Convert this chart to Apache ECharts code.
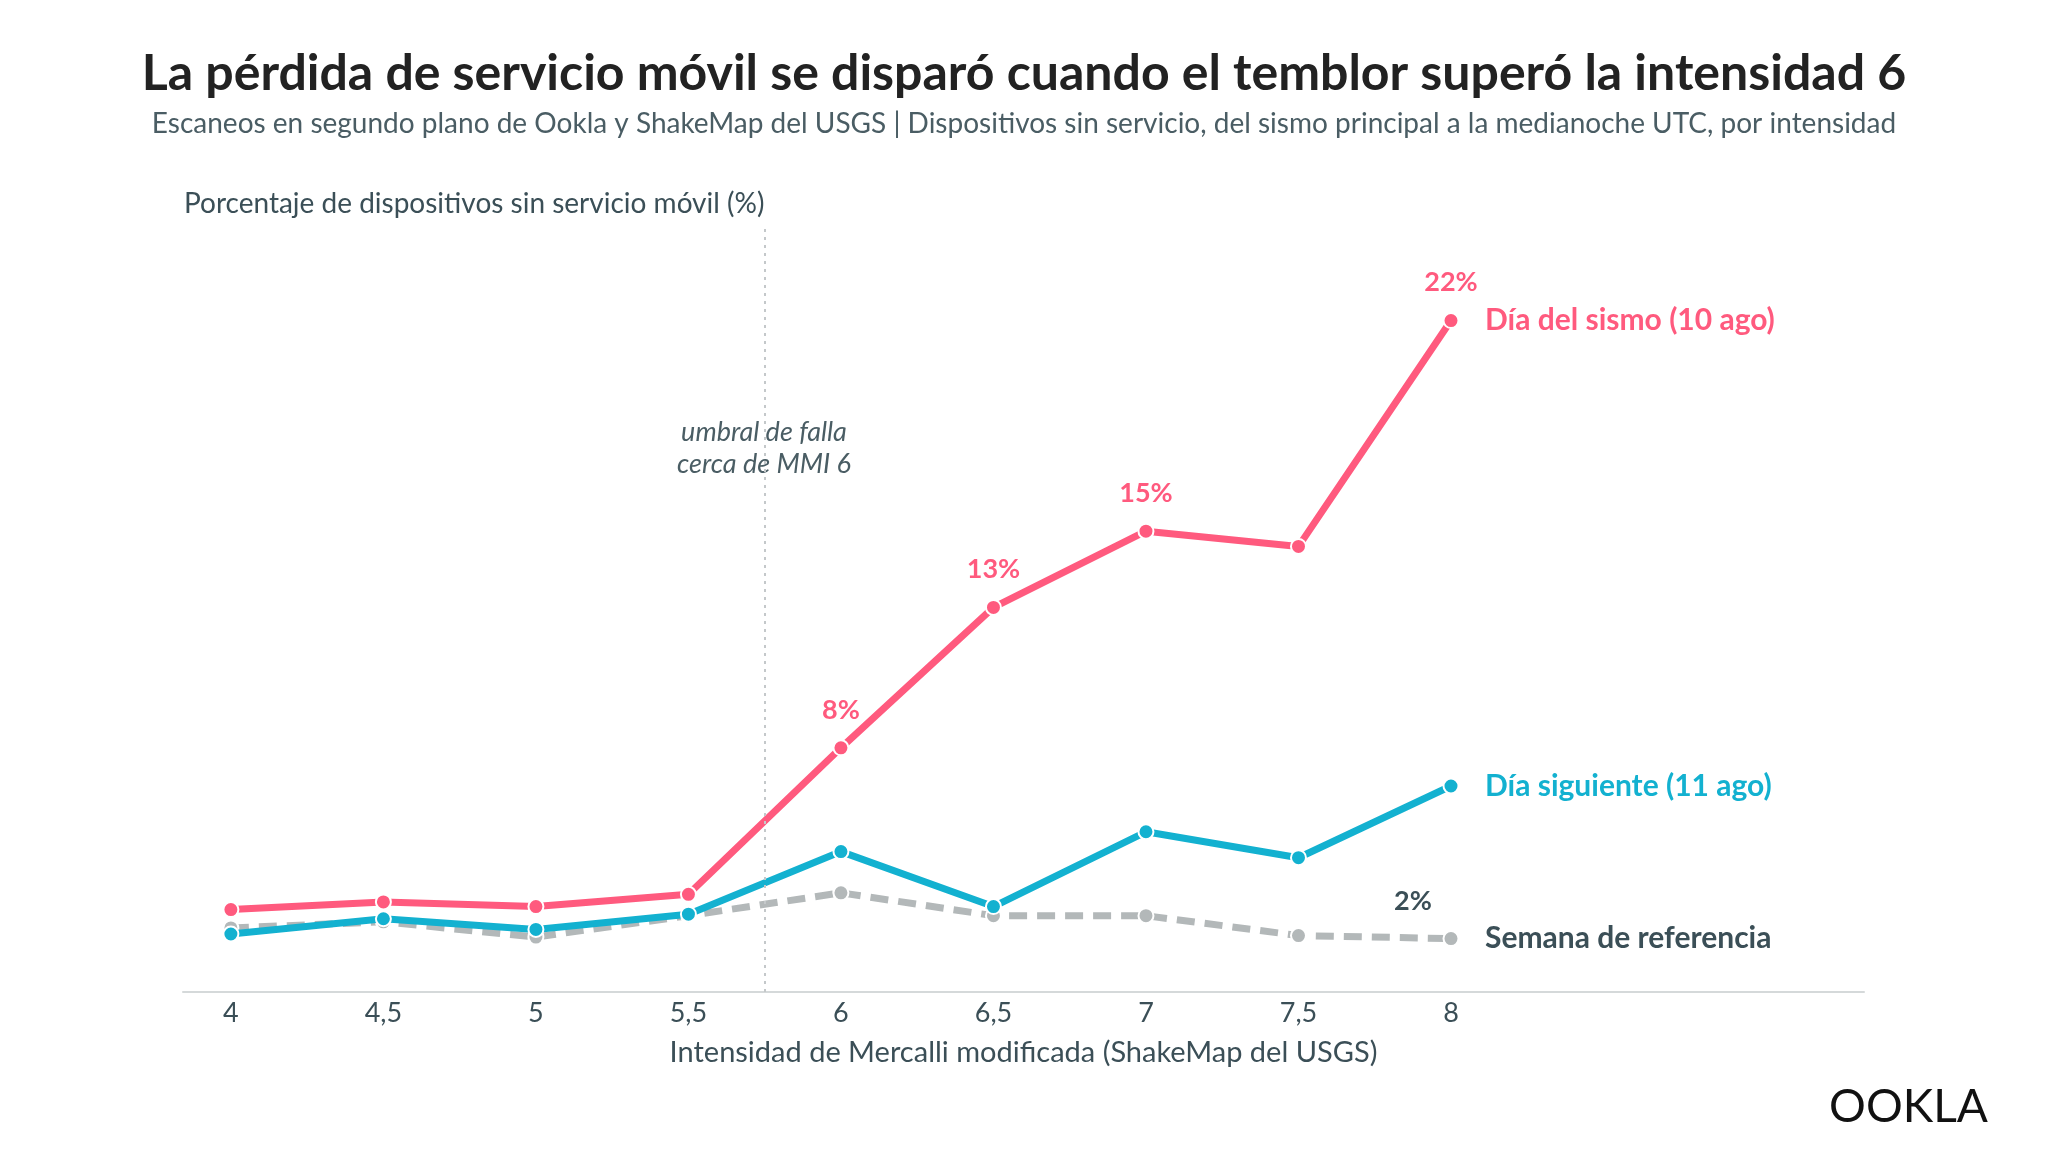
<!DOCTYPE html>
<html lang="es">
<head>
<meta charset="UTF-8">
<title>Ookla</title>
<script src="https://cdn.jsdelivr.net/npm/echarts@6/dist/echarts.min.js"></script>
<style>
  html, body { margin: 0; padding: 0; background: #fff; }
  #container { width: 2048px; height: 1152px; }
</style>
</head>
<body>
<div id="container"></div>
<script>
var intensity = [4, 4.5, 5, 5.5, 6, 6.5, 7, 7.5, 8];
var quakeDay = [2.7, 2.95, 2.8, 3.2, 8.0, 12.6, 15.1, 14.6, 22.0];
var nextDay = [1.9, 2.4, 2.05, 2.55, 4.6, 2.8, 5.25, 4.4, 6.75];
var baseline = [2.1, 2.3, 1.8, 2.5, 3.25, 2.5, 2.5, 1.85, 1.75];
var quakeLabels = ['', '', '', '', '8%', '13%', '15%', '', '22%'];
var threshold = 5.75;

var font = 'Lato';
var dark = '#3b4f57';
var red = '#ff5a7e', blue = '#13b1d0', gray = '#b3b8b9';

function pairs(vals, labels, color) {
  return vals.map(function (v, i) {
    var d = { value: [intensity[i], v] };
    if (labels && labels[i]) {
      d.label = { show: true, formatter: labels[i], position: 'top', distance: 16,
        color: color, fontSize: 27, fontWeight: 'bold', fontFamily: font };
    }
    return d;
  });
}

var chart = echarts.init(document.getElementById('container'));
var baseData = pairs(baseline);
baseData[8].label = { show: true, formatter: '2%', position: 'top', offset: [-38, -10],
  color: dark, fontSize: 27, fontWeight: 'bold', fontFamily: font };

function lineSeries(name, data, color, dashed, endText) {
  return {
    type: 'line', name: name, data: data,
    symbol: 'circle', symbolSize: 15,
    lineStyle: { color: color, width: 7, type: dashed ? [18, 10] : 'solid' },
    itemStyle: { color: color, borderColor: '#fff', borderWidth: 2 },
    endLabel: { show: true, formatter: endText, color: dashed ? dark : color,
      fontSize: 30, fontWeight: 'bold', fontFamily: font, distance: 34 },
    z: dashed ? 1 : 2,
    animation: false
  };
}

var s1 = lineSeries('Día del sismo (10 ago)', pairs(quakeDay, quakeLabels, red), red, false, 'Día del sismo (10 ago)');
var s2 = lineSeries('Día siguiente (11 ago)', pairs(nextDay), blue, false, 'Día siguiente (11 ago)');
var s3 = lineSeries('Semana de referencia', baseData, gray, true, 'Semana de referencia');
s3.markLine = {
  silent: true, symbol: 'none',
  lineStyle: { color: '#c4c8ca', type: [3, 5], width: 2 },
  label: { show: false },
  data: [{ xAxis: threshold }]
};

chart.setOption({
  backgroundColor: '#fff',
  textStyle: { fontFamily: font },
  title: [{
    text: 'La pérdida de servicio móvil se disparó cuando el temblor superó la intensidad 6',
    left: 'center', top: 44,
    textStyle: { fontSize: 50, fontWeight: 'bold', color: '#222', fontFamily: font }
  }, {
    text: 'Escaneos en segundo plano de Ookla y ShakeMap del USGS | Dispositivos sin servicio, del sismo principal a la medianoche UTC, por intensidad',
    left: 'center', top: 105,
    textStyle: { fontSize: 28, fontWeight: 'normal', color: '#4a5d64', fontFamily: font }
  }],
  grid: { left: 183, right: 184, top: 229, bottom: 160 },
  xAxis: {
    type: 'value', min: 3.843, max: 9.354,
    name: 'Intensidad de Mercalli modificada (ShakeMap del USGS)',
    nameLocation: 'middle', nameGap: 46,
    nameTextStyle: { fontSize: 29, color: dark, fontFamily: font },
    axisLine: { show: true, lineStyle: { color: '#d5d9da', width: 2 } },
    axisTick: { show: false },
    splitLine: { show: false },
    axisLabel: { customValues: intensity, fontSize: 27, color: dark, margin: 8,
      formatter: function (v) { return String(v).replace('.', ','); } }
  },
  yAxis: {
    type: 'value', min: 0, max: 25,
    axisLine: { show: false }, axisTick: { show: false },
    axisLabel: { show: false }, splitLine: { show: false }
  },
  graphic: [{
    type: 'text', left: 184, top: 190,
    style: { text: 'Porcentaje de dispositivos sin servicio móvil (%)', fontSize: 28, fill: dark, fontFamily: font }
  }, {
    type: 'text', x: 764, y: 416,
    style: { text: 'umbral de falla\ncerca de MMI 6', fontSize: 27, fontStyle: 'italic', fill: '#4a5d64',
      align: 'center', lineHeight: 32, fontFamily: font }
  }, {
    type: 'text', right: 60, top: 1084,
    style: { text: 'OOKLA', fontSize: 46, fill: '#111', fontFamily: font, fontWeight: 'normal' }
  }],
  series: [s3, s2, s1]
});
</script>
</body>
</html>
